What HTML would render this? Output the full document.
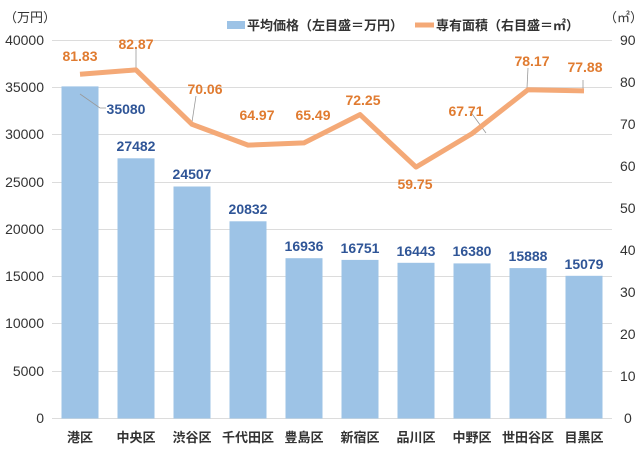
<!DOCTYPE html>
<html><head><meta charset="utf-8"><style>
body{margin:0;background:#fff}
svg text{font-family:"Liberation Sans","Noto Sans CJK JP",sans-serif}
</style></head><body>
<svg width="640" height="452" viewBox="0 0 640 452" xmlns="http://www.w3.org/2000/svg">
<g stroke="#dcdcdc" stroke-width="1">
<line x1="52" x2="612" y1="40.5" y2="40.5"/><line x1="52" x2="612" y1="87.5" y2="87.5"/>
<line x1="52" x2="612" y1="134.5" y2="134.5"/><line x1="52" x2="612" y1="182.5" y2="182.5"/>
<line x1="52" x2="612" y1="229.5" y2="229.5"/><line x1="52" x2="612" y1="276.5" y2="276.5"/>
<line x1="52" x2="612" y1="323.5" y2="323.5"/><line x1="52" x2="612" y1="371.5" y2="371.5"/>
<line x1="52" x2="612" y1="418.5" y2="418.5"/>
</g>
<g font-size="14" fill="#333" text-anchor="end">
<text x="44" y="45">40000</text><text x="44" y="92">35000</text><text x="44" y="139">30000</text>
<text x="44" y="187">25000</text><text x="44" y="234">20000</text><text x="44" y="281">15000</text>
<text x="44" y="328">10000</text><text x="44" y="376">5000</text><text x="44" y="423">0</text>
</g>
<g font-size="14" fill="#333">
<text x="620" y="45">90</text><text x="620" y="87">80</text><text x="620" y="129">70</text>
<text x="620" y="171">60</text><text x="620" y="213">50</text><text x="620" y="255">40</text>
<text x="620" y="297">30</text><text x="620" y="339">20</text><text x="620" y="381">10</text>
<text x="624" y="423">0</text>
</g>
<text x="4" y="22" font-size="13" fill="#333">（万円）</text>
<text x="604" y="22" font-size="13" fill="#333">（㎡）</text>
<g fill="#9DC3E6">
<rect x="61.5" y="86.4" width="37" height="332.1"/>
<rect x="117.5" y="158.3" width="37" height="260.2"/>
<rect x="173.5" y="186.5" width="37" height="232"/>
<rect x="229.5" y="221.3" width="37" height="197.2"/>
<rect x="285.5" y="258.2" width="37" height="160.3"/>
<rect x="341.5" y="259.9" width="37" height="158.6"/>
<rect x="397.5" y="262.8" width="37" height="155.7"/>
<rect x="453.5" y="263.4" width="37" height="155.1"/>
<rect x="509.5" y="268.1" width="37" height="150.4"/>
<rect x="565.5" y="275.8" width="37" height="142.7"/>
</g>
<g stroke="#999" stroke-width="0.8" fill="none">
<polyline points="80,94 100,108 106,108"/>
<line x1="136" y1="48" x2="136" y2="70"/>
<line x1="196" y1="96" x2="192" y2="122"/>
<line x1="470" y1="111" x2="486" y2="133"/>
<line x1="528" y1="68" x2="527" y2="88"/>
<line x1="583" y1="80" x2="583" y2="90"/>
</g>
<polyline fill="none" stroke="#F4A977" stroke-width="5" stroke-linejoin="round" points="80,74.3 136,69.9 192,124.3 248,145.1 304,142.9 360,114.6 416,167.1 472,133.6 528,89.7 584,90.9"/>
<g font-size="14" font-weight="bold" fill="#2F5597" text-anchor="middle">
<text x="126" y="114">35080</text><text x="136" y="151">27482</text><text x="192" y="179">24507</text>
<text x="248" y="214">20832</text><text x="304" y="251">16936</text><text x="360" y="253">16751</text>
<text x="416" y="256">16443</text><text x="472" y="256">16380</text><text x="528" y="261">15888</text>
<text x="584" y="269">15079</text>
</g>
<g font-size="14" font-weight="bold" fill="#E07B30" text-anchor="middle">
<text x="80" y="61">81.83</text><text x="136" y="49">82.87</text><text x="205" y="94">70.06</text>
<text x="257" y="120">64.97</text><text x="313" y="120">65.49</text><text x="363" y="105">72.25</text>
<text x="415" y="189">59.75</text><text x="466" y="116">67.71</text><text x="532" y="66">78.17</text>
<text x="585" y="72">77.88</text>
</g>
<g font-size="13" font-weight="bold" fill="#333" text-anchor="middle">
<text x="80" y="442">港区</text><text x="136" y="442">中央区</text><text x="192" y="442">渋谷区</text>
<text x="248" y="442">千代田区</text><text x="304" y="442">豊島区</text><text x="360" y="442">新宿区</text>
<text x="416" y="442">品川区</text><text x="472" y="442">中野区</text><text x="528" y="442">世田谷区</text>
<text x="584" y="442">目黒区</text>
</g>
<rect x="227" y="21" width="18" height="8" fill="#9DC3E6"/>
<text x="247" y="30" font-size="13" font-weight="bold" fill="#333">平均価格（左目盛＝万円）</text>
<line x1="415" y1="25" x2="434" y2="25" stroke="#F4A977" stroke-width="5"/>
<text x="436" y="30" font-size="13" font-weight="bold" fill="#333">専有面積（右目盛＝㎡）</text>
</svg>
</body></html>
